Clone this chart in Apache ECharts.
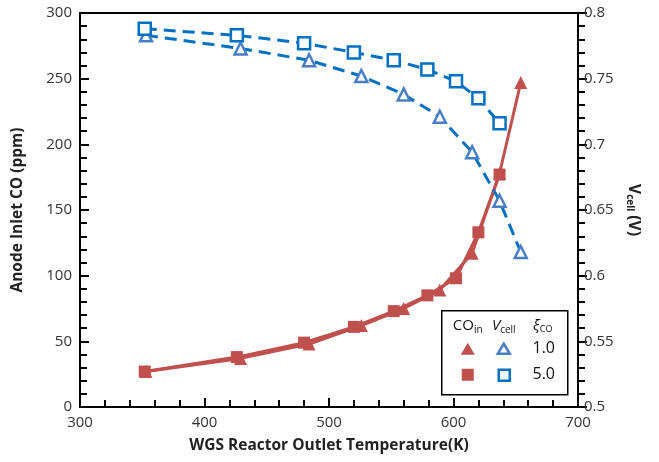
<!DOCTYPE html>
<html>
<head>
<meta charset="utf-8">
<script src="https://cdn.jsdelivr.net/npm/echarts@6/dist/echarts.min.js"></script>
<style>
  html, body { margin: 0; padding: 0; background: #fff; }
  #chart { width: 659px; height: 462px; }
</style>
</head>
<body>
<div id="chart"></div>
<script>
// WGS reactor outlet temperature (K) for each CO conversion ratio ξ_CO
const tempXi1 = [353, 429, 484, 526, 560, 589, 615, 637, 654];
const tempXi5 = [352, 426, 480, 520, 552, 579, 602, 620, 637];
// Anode inlet CO (ppm)
const coXi1 = [27, 37, 48, 62, 75, 89, 117, 178, 247];
const coXi5 = [27, 38, 49, 61, 73, 85, 98, 133, 177];
// Cell voltage (V)
const vXi1 = [0.783, 0.773, 0.764, 0.752, 0.738, 0.721, 0.694, 0.657, 0.618];
const vXi5 = [0.788, 0.783, 0.777, 0.770, 0.764, 0.757, 0.748, 0.735, 0.716];

const xTicks = [300, 400, 500, 600, 700];
const coTicks = [0, 50, 100, 150, 200, 250, 300];
const vTicks = [0.5, 0.55, 0.6, 0.65, 0.7, 0.75, 0.8];

const FONT = '"Open Sans", "Noto Sans", sans-serif';
const RED = '#C0504D';
const BLUE_LINE = '#0070C0';
const BLUE_TRI = '#4A7EC4';

const pair = (xs, ys) => xs.map((x, i) => [x, ys[i]]);

const chart = echarts.init(document.getElementById('chart'));

const option = {
  animation: false,
  backgroundColor: '#fff',
  grid: { left: 80, right: 81, top: 13, bottom: 55, show: false },
  xAxis: [
    {
      type: 'value', position: 'bottom',
      min: xTicks[0], max: xTicks[xTicks.length - 1], interval: 100,
      name: 'WGS Reactor Outlet Temperature(K)',
      nameLocation: 'middle', nameGap: 31,
      nameTextStyle: { fontSize: 15.5, fontWeight: 'bold', color: '#222', fontFamily: FONT },
      axisLine: { show: true, onZero: false, lineStyle: { color: '#000', width: 2 } },
      axisTick: { show: true, inside: true, length: 9, lineStyle: { color: '#000', width: 2 } },
      minorTick: { show: true, splitNumber: 5, length: 7, lineStyle: { color: '#000', width: 2 } },
      splitLine: { show: false },
      axisLabel: { color: '#333', fontSize: 15, fontFamily: FONT }
    },
    {
      // plain top frame line
      type: 'value', position: 'top',
      min: xTicks[0], max: xTicks[xTicks.length - 1], interval: 100,
      axisLine: { show: true, onZero: false, lineStyle: { color: '#000', width: 2 } },
      axisTick: { show: false }, axisLabel: { show: false }, splitLine: { show: false }
    }
  ],
  yAxis: [
    {
      type: 'value', position: 'left',
      min: coTicks[0], max: coTicks[coTicks.length - 1], interval: 50,
      name: 'Anode Inlet CO (ppm)',
      nameLocation: 'middle', nameGap: 54, nameRotate: 90,
      nameTextStyle: { fontSize: 15.5, fontWeight: 'bold', color: '#222', fontFamily: FONT },
      axisLine: { show: true, onZero: false, lineStyle: { color: '#000', width: 2 } },
      axisTick: { show: true, inside: true, length: 9, lineStyle: { color: '#000', width: 2 } },
      minorTick: { show: true, splitNumber: 5, length: 7, lineStyle: { color: '#000', width: 2 } },
      splitLine: { show: false },
      axisLabel: { color: '#333', fontSize: 15, fontFamily: FONT }
    },
    {
      type: 'value', position: 'right',
      min: vTicks[0], max: vTicks[vTicks.length - 1], interval: 0.05,
      name: '{v|V}{s|cell}{v| (V)}',
      nameLocation: 'middle', nameGap: 42, nameRotate: -90,
      nameTextStyle: {
        color: '#222', fontFamily: FONT,
        rich: {
          v: { fontSize: 15.5, fontWeight: 'bold', color: '#222', fontFamily: FONT },
          s: { fontSize: 10, fontWeight: 'bold', color: '#222', fontFamily: FONT, padding: [8, 0, 0, 0] }
        }
      },
      axisLine: { show: true, onZero: false, lineStyle: { color: '#000', width: 2 } },
      axisTick: { show: true, inside: false, length: 9, lineStyle: { color: '#000', width: 2 } },
      minorTick: { show: true, splitNumber: 5, length: 7, lineStyle: { color: '#000', width: 2 } },
      splitLine: { show: false },
      axisLabel: {
        color: '#333', fontSize: 15, fontFamily: FONT, margin: 6,
        formatter: v => String(parseFloat(v.toFixed(2)))
      }
    }
  ],
  series: [
    {
      name: 'CO_in ξ=1.0', type: 'line', yAxisIndex: 0,
      data: pair(tempXi1, coXi1),
      symbol: 'triangle', symbolSize: 13,
      lineStyle: { color: RED, width: 3 },
      itemStyle: { color: RED }
    },
    {
      name: 'CO_in ξ=5.0', type: 'line', yAxisIndex: 0,
      data: pair(tempXi5, coXi5),
      symbol: 'rect', symbolSize: 12,
      lineStyle: { color: RED, width: 3 },
      itemStyle: { color: RED }
    },
    {
      name: 'V_cell ξ=1.0', type: 'line', yAxisIndex: 1,
      data: pair(tempXi1, vXi1),
      symbol: 'triangle', symbolSize: 12,
      lineStyle: { color: BLUE_LINE, width: 3, type: [12, 7] },
      itemStyle: { color: '#fff', borderColor: BLUE_TRI, borderWidth: 2.5 }
    },
    {
      name: 'V_cell ξ=5.0', type: 'line', yAxisIndex: 1,
      data: pair(tempXi5, vXi5),
      symbol: 'rect', symbolSize: 12,
      lineStyle: { color: BLUE_LINE, width: 3, type: [12, 7] },
      itemStyle: { color: '#fff', borderColor: BLUE_LINE, borderWidth: 2.5 }
    }
  ],
  graphic: [
    {
      type: 'group', left: 441, top: 310, z: 10,
      children: [
        { type: 'rect', shape: { x: 0, y: 0, width: 126, height: 84 },
          style: { fill: '#fff', stroke: '#000', lineWidth: 1.5 } },
        { type: 'text', x: 26, y: 15,
          style: {
            text: '{a|CO}{s|in}', align: 'center', verticalAlign: 'middle',
            rich: {
              a: { fontSize: 15, fontFamily: FONT, fill: '#111' },
              s: { fontSize: 10, fontFamily: FONT, fill: '#111', padding: [8, 0, 0, 0] }
            }
          } },
        { type: 'text', x: 62, y: 15,
          style: {
            text: '{a|V}{s|cell}', align: 'center', verticalAlign: 'middle',
            rich: {
              a: { fontSize: 15, fontStyle: 'italic', fontFamily: FONT, fill: '#111' },
              s: { fontSize: 10, fontFamily: FONT, fill: '#111', padding: [8, 0, 0, 0] }
            }
          } },
        { type: 'text', x: 101, y: 15,
          style: {
            text: '{a|ξ}{s|CO}', align: 'center', verticalAlign: 'middle',
            rich: {
              a: { fontSize: 15, fontStyle: 'italic', fontFamily: FONT, fill: '#111' },
              s: { fontSize: 9, fontFamily: FONT, fill: '#111', padding: [8, 0, 0, 0] }
            }
          } },
        { type: 'polygon', shape: { points: [[26, 32], [33, 44], [19, 44]] },
          style: { fill: RED } },
        { type: 'polygon', shape: { points: [[62, 33], [68, 43], [56, 43]] },
          style: { fill: '#fff', stroke: BLUE_TRI, lineWidth: 2.5 } },
        { type: 'text', x: 102, y: 38,
          style: { text: '1.0', align: 'center', verticalAlign: 'middle', fontSize: 16, fontFamily: FONT, fill: '#111' } },
        { type: 'rect', shape: { x: 20, y: 58, width: 12, height: 12 },
          style: { fill: RED } },
        { type: 'rect', shape: { x: 57, y: 59, width: 11, height: 11 },
          style: { fill: '#fff', stroke: BLUE_LINE, lineWidth: 2.5 } },
        { type: 'text', x: 102, y: 64,
          style: { text: '5.0', align: 'center', verticalAlign: 'middle', fontSize: 16, fontFamily: FONT, fill: '#111' } }
      ]
    }
  ]
};

chart.setOption(option);
</script>
</body>
</html>
